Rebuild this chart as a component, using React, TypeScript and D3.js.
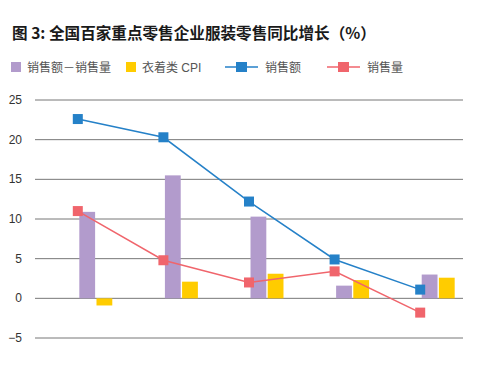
import { useEffect, useRef } from "react"
import * as d3 from "d3"

// periods (no labels shown on the axis)
const categories = ["1", "2", "3", "4", "5"]
const diffValues = [10.9, 15.5, 10.3, 1.6, 3.0] // 销售额－销售量
const cpiValues = [-0.9, 2.1, 3.1, 2.3, 2.6] // 衣着类 CPI
const salesValues = [22.6, 20.3, 12.2, 4.9, 1.1] // 销售额
const volumeValues = [11.0, 4.8, 2.0, 3.4, -1.8] // 销售量
const yTicks = [-5, 0, 5, 10, 15, 20, 25]

const title = "图 3: 全国百家重点零售企业服装零售同比增长（%）"

const PURPLE = "#b29bcc"
const YELLOW = "#ffcc00"
const BLUE = "#2581c8"
const RED = "#f0656c"

export default function App() {
  const svgRef = useRef<SVGSVGElement>(null)

  useEffect(() => {
    if (!svgRef.current) return
    const svg = d3.select(svgRef.current)
    svg.selectAll("*").remove()

    const font = "'Liberation Sans', 'Noto Sans CJK SC', sans-serif"

    const x = d3.scaleBand().domain(categories).range([35, 463])
    const y = d3.scaleLinear().domain([-5, 25]).range([338, 100])
    const center = (c: string) => (x(c) || 0) + x.bandwidth() / 2

    // title
    svg
      .append("text")
      .attr("x", 12)
      .attr("y", 39)
      .attr("font-family", "'Noto Sans CJK SC', sans-serif")
      .attr("font-size", 15.6)
      .attr("font-weight", "bold")
      .attr("fill", "#1a1a1a")
      .text(title)

    // legend
    const lg = svg.append("g").attr("font-family", font).attr("font-size", 12).attr("fill", "#555")
    lg.append("rect").attr("x", 11).attr("y", 62).attr("width", 10).attr("height", 10).attr("fill", PURPLE)
    lg.append("text").attr("x", 27).attr("y", 72).text("销售额－销售量")
    lg.append("rect").attr("x", 126).attr("y", 62).attr("width", 10).attr("height", 10).attr("fill", YELLOW)
    lg.append("text").attr("x", 142).attr("y", 72).text("衣着类 CPI")
    const lineKeys = [
      { x: 225, color: BLUE, label: "销售额" },
      { x: 327, color: RED, label: "销售量" },
    ]
    lineKeys.forEach((k) => {
      lg.append("line")
        .attr("x1", k.x).attr("x2", k.x + 33)
        .attr("y1", 67).attr("y2", 67)
        .attr("stroke", k.color).attr("stroke-width", 1.5)
      lg.append("rect")
        .attr("x", k.x + 11).attr("y", 62)
        .attr("width", 11).attr("height", 10)
        .attr("fill", k.color)
      lg.append("text").attr("x", k.x + 40).attr("y", 72).text(k.label)
    })

    // grid + y labels
    const grid = svg.append("g")
    yTicks.forEach((t) => {
      grid.append("line")
        .attr("x1", 35).attr("x2", 463)
        .attr("y1", y(t)).attr("y2", y(t))
        .attr("stroke", "#777").attr("stroke-width", 1)
      grid.append("text")
        .attr("x", 22).attr("y", y(t) + 4)
        .attr("text-anchor", "end")
        .attr("font-family", font).attr("font-size", 12).attr("fill", "#333")
        .text(t < 0 ? "−" + Math.abs(t) : String(t))
    })

    // bars
    const inner = d3.scaleBand().domain(["diff", "cpi"]).range([1, 35]).paddingInner(0.08).paddingOuter(0.03)
    const barSeries = [
      { key: "diff", values: diffValues, color: PURPLE },
      { key: "cpi", values: cpiValues, color: YELLOW },
    ]
    barSeries.forEach((s) => {
      svg.append("g")
        .selectAll("rect")
        .data(categories)
        .enter()
        .append("rect")
        .attr("x", (c) => center(c) + (inner(s.key) || 0))
        .attr("width", inner.bandwidth())
        .attr("y", (c, i) => y(Math.max(0, s.values[i])))
        .attr("height", (c, i) => Math.abs(y(s.values[i]) - y(0)))
        .attr("fill", s.color)
    })

    // lines
    const lineSeries = [
      { values: salesValues, color: BLUE },
      { values: volumeValues, color: RED },
    ]
    lineSeries.forEach((s) => {
      const pts = categories.map((c, i) => [center(c), y(s.values[i])] as [number, number])
      svg.append("path")
        .attr("d", d3.line()(pts))
        .attr("fill", "none")
        .attr("stroke", s.color)
        .attr("stroke-width", 1.5)
      svg.append("g")
        .selectAll("rect")
        .data(pts)
        .enter()
        .append("rect")
        .attr("x", (d) => d[0] - 5)
        .attr("y", (d) => d[1] - 5)
        .attr("width", 10)
        .attr("height", 10)
        .attr("fill", s.color)
    })
  }, [])

  return (
    <div style={{ position: "absolute", left: 0, top: 0 }}>
      <svg ref={svgRef} width={500} height={374} style={{ display: "block", background: "#fff" }} />
    </div>
  )
}
